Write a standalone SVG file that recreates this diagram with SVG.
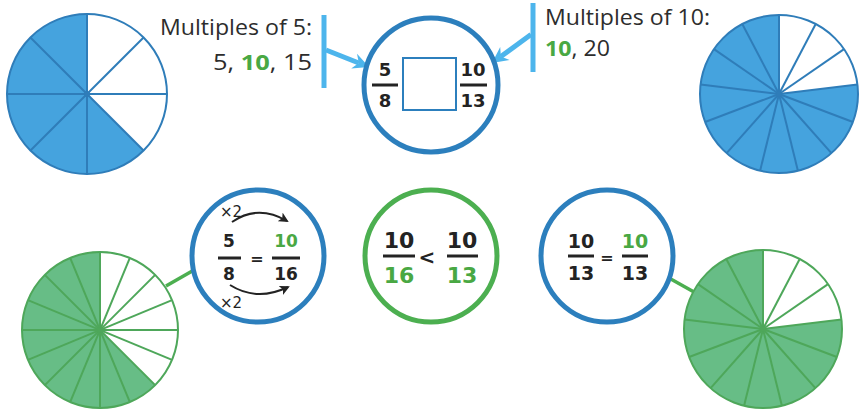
<svg xmlns="http://www.w3.org/2000/svg" xmlns:xlink="http://www.w3.org/1999/xlink" width="864" height="411" viewBox="0 0 864 411">
<style>
.bfill{fill:#45a3de}
.gfill{fill:#67bd86}
.bline{stroke:#2f7db9;stroke-width:2;fill:none}
.gline{stroke:#4ea75a;stroke-width:2;fill:none}
.wedge{fill:#ffffff}
.ring-b{fill:#ffffff;stroke:#2c7fbd;stroke-width:5}
.ring-g{fill:#ffffff;stroke:#4caf50;stroke-width:5}
.lbl{font-family:"Open Sans","DejaVu Sans",sans-serif;font-size:21px;fill:#2d2d2d}
.num{font-family:"DejaVu Sans",sans-serif;font-weight:bold;fill:#232323;text-anchor:middle}
.grn{fill:#49a843;font-weight:bold}
.bar{stroke:#232323;stroke-width:3}
.small{font-family:"DejaVu Sans",sans-serif;font-size:15px;fill:#232323}
.lb{stroke:#4db5ec;stroke-width:5;fill:none}
.lbh{fill:#4db5ec}
.conn{stroke:#4caf50;stroke-width:3.5}
</style>
<defs>
<marker id="ah" viewBox="0 0 10 10" refX="8" refY="5" markerWidth="10" markerHeight="10" markerUnits="userSpaceOnUse" orient="auto">
<path d="M0,0 L10,5 L0,10 L2.5,5 z" fill="#232323"/>
</marker>
<g id="spokes13">
<line x1="0" y1="0" x2="0" y2="-79"/>
<line x1="0" y1="0" x2="36.71" y2="-69.95"/>
<line x1="0" y1="0" x2="65.02" y2="-44.88"/>
<line x1="0" y1="0" x2="78.42" y2="-9.52"/>
<line x1="0" y1="0" x2="73.87" y2="28.01"/>
<line x1="0" y1="0" x2="52.39" y2="59.13"/>
<line x1="0" y1="0" x2="18.91" y2="76.70"/>
<line x1="0" y1="0" x2="-18.91" y2="76.70"/>
<line x1="0" y1="0" x2="-52.39" y2="59.13"/>
<line x1="0" y1="0" x2="-73.87" y2="28.01"/>
<line x1="0" y1="0" x2="-78.42" y2="-9.52"/>
<line x1="0" y1="0" x2="-65.02" y2="-44.88"/>
<line x1="0" y1="0" x2="-36.71" y2="-69.95"/>
<circle cx="0" cy="0" r="79"/>
</g>
</defs>

<!-- connectors -->
<g id="connectors">
<line class="lb" x1="324" y1="15" x2="324" y2="88"/>
<line class="lb" x1="326" y1="50" x2="358.8" y2="63"/>
<polygon class="lbh" points="369,67 351.2,68.5 358.8,63 357,53.7"/>
<line class="lb" x1="533" y1="3" x2="533" y2="72"/>
<line class="lb" x1="531" y1="34.5" x2="500.9" y2="56.5"/>
<polygon class="lbh" points="492,63 500.2,47.1 500.9,56.5 509.6,60"/>
<line class="conn" x1="166" y1="286" x2="194" y2="270"/>
<line class="conn" x1="669" y1="278" x2="694" y2="292"/>
</g>

<!-- top-left pie 5/8 -->
<g id="pie-5-8" transform="translate(87,94)">
<circle class="bfill" r="80"/>
<path class="wedge" d="M0,0 L0,-80 A80,80 0 0 1 56.57,56.57 Z"/>
<g class="bline">
<line x1="0" y1="-80" x2="0" y2="80"/>
<line x1="56.57" y1="-56.57" x2="-56.57" y2="56.57"/>
<line x1="80" y1="0" x2="-80" y2="0"/>
<line x1="56.57" y1="56.57" x2="-56.57" y2="-56.57"/>
<circle r="80"/>
</g>
<circle r="3" fill="#2f7db9"/>
</g>

<!-- top-right pie 10/13 -->
<g id="pie-10-13-blue" transform="translate(779,94)">
<circle class="bfill" r="79"/>
<path class="wedge" d="M0,0 L0,-79 A79,79 0 0 1 78.42,-9.52 Z"/>
<use xlink:href="#spokes13" class="bline"/>
<circle r="3" fill="#2f7db9"/>
</g>

<!-- bottom-left pie 10/16 -->
<g id="pie-10-16" transform="translate(100,330)">
<circle class="gfill" r="78"/>
<path class="wedge" d="M0,0 L0,-78 A78,78 0 0 1 55.15,55.15 Z"/>
<g class="gline">
<line x1="0" y1="-78" x2="0" y2="78"/>
<line x1="29.85" y1="-72.06" x2="-29.85" y2="72.06"/>
<line x1="55.15" y1="-55.15" x2="-55.15" y2="55.15"/>
<line x1="72.06" y1="-29.85" x2="-72.06" y2="29.85"/>
<line x1="78" y1="0" x2="-78" y2="0"/>
<line x1="72.06" y1="29.85" x2="-72.06" y2="-29.85"/>
<line x1="55.15" y1="55.15" x2="-55.15" y2="-55.15"/>
<line x1="29.85" y1="72.06" x2="-29.85" y2="-72.06"/>
<circle r="78"/>
</g>
<circle r="3" fill="#4ea75a"/>
</g>

<!-- bottom-right pie 10/13 -->
<g id="pie-10-13-green" transform="translate(763,329)">
<circle class="gfill" r="79"/>
<path class="wedge" d="M0,0 L0,-79 A79,79 0 0 1 78.42,-9.52 Z"/>
<use xlink:href="#spokes13" class="gline"/>
<circle r="3" fill="#4ea75a"/>
</g>

<!-- labels -->
<g id="label-mult5">
<text class="lbl" x="312" y="35" text-anchor="end" textLength="152" lengthAdjust="spacingAndGlyphs">Multiples of 5:</text>
<text class="lbl" x="312" y="70" text-anchor="end" textLength="99" lengthAdjust="spacingAndGlyphs">5, <tspan class="grn">10</tspan>, 15</text>
</g>
<g id="label-mult10">
<text class="lbl" x="545" y="25" textLength="165" lengthAdjust="spacingAndGlyphs">Multiples of 10:</text>
<text class="lbl" x="545" y="56" textLength="65" lengthAdjust="spacingAndGlyphs"><tspan class="grn">10</tspan>, 20</text>
</g>

<!-- top compare circle -->
<g id="compare-top">
<circle class="ring-b" cx="431" cy="85" r="67"/>
<text class="num" x="385" y="76" font-size="18">5</text>
<line class="bar" x1="372" y1="85" x2="398" y2="85"/>
<text class="num" x="385" y="107" font-size="18">8</text>
<rect x="403" y="58" width="53" height="52" fill="#ffffff" stroke="#2c7fbd" stroke-width="2"/>
<text class="num" x="473" y="76" font-size="18">10</text>
<line class="bar" x1="460" y1="85" x2="487" y2="85"/>
<text class="num" x="473" y="107" font-size="18">13</text>
</g>

<!-- bottom-left equivalence circle -->
<g id="equiv-5-8">
<circle class="ring-b" cx="258" cy="256" r="66"/>
<path d="M232,222 Q258,204 287,221" fill="none" stroke="#232323" stroke-width="2" marker-end="url(#ah)"/>
<path d="M230,285 Q257,302 288,287" fill="none" stroke="#232323" stroke-width="2" marker-end="url(#ah)"/>
<text class="small" x="220" y="217">×2</text>
<text class="small" x="220" y="308">×2</text>
<text class="num" x="229" y="247" font-size="17">5</text>
<line class="bar" x1="218" y1="258" x2="241" y2="258"/>
<text class="num" x="229" y="280" font-size="17">8</text>
<text class="num" x="257" y="264" font-size="16">=</text>
<text class="num grn" x="286" y="247" font-size="17">10</text>
<line class="bar" x1="272" y1="258" x2="300" y2="258"/>
<text class="num" x="286" y="280" font-size="17">16</text>
</g>

<!-- bottom-center comparison circle -->
<g id="compare-result">
<circle class="ring-g" cx="431" cy="256" r="66"/>
<text class="num" x="399" y="248" font-size="22">10</text>
<line class="bar" x1="383" y1="256" x2="415" y2="256"/>
<text class="num grn" x="399" y="283" font-size="22">16</text>
<text class="num" x="427" y="264" font-size="20">&lt;</text>
<text class="num" x="462" y="248" font-size="22">10</text>
<line class="bar" x1="447" y1="256" x2="478" y2="256"/>
<text class="num grn" x="462" y="283" font-size="22">13</text>
</g>

<!-- bottom-right equivalence circle -->
<g id="equiv-10-13">
<circle class="ring-b" cx="607" cy="256" r="66"/>
<text class="num" x="581" y="248" font-size="19">10</text>
<line class="bar" x1="568" y1="256" x2="594" y2="256"/>
<text class="num" x="581" y="280" font-size="19">13</text>
<text class="num" x="607" y="263" font-size="16">=</text>
<text class="num grn" x="635" y="248" font-size="19">10</text>
<line class="bar" x1="622" y1="256" x2="648" y2="256"/>
<text class="num" x="635" y="280" font-size="19">13</text>
</g>
</svg>
